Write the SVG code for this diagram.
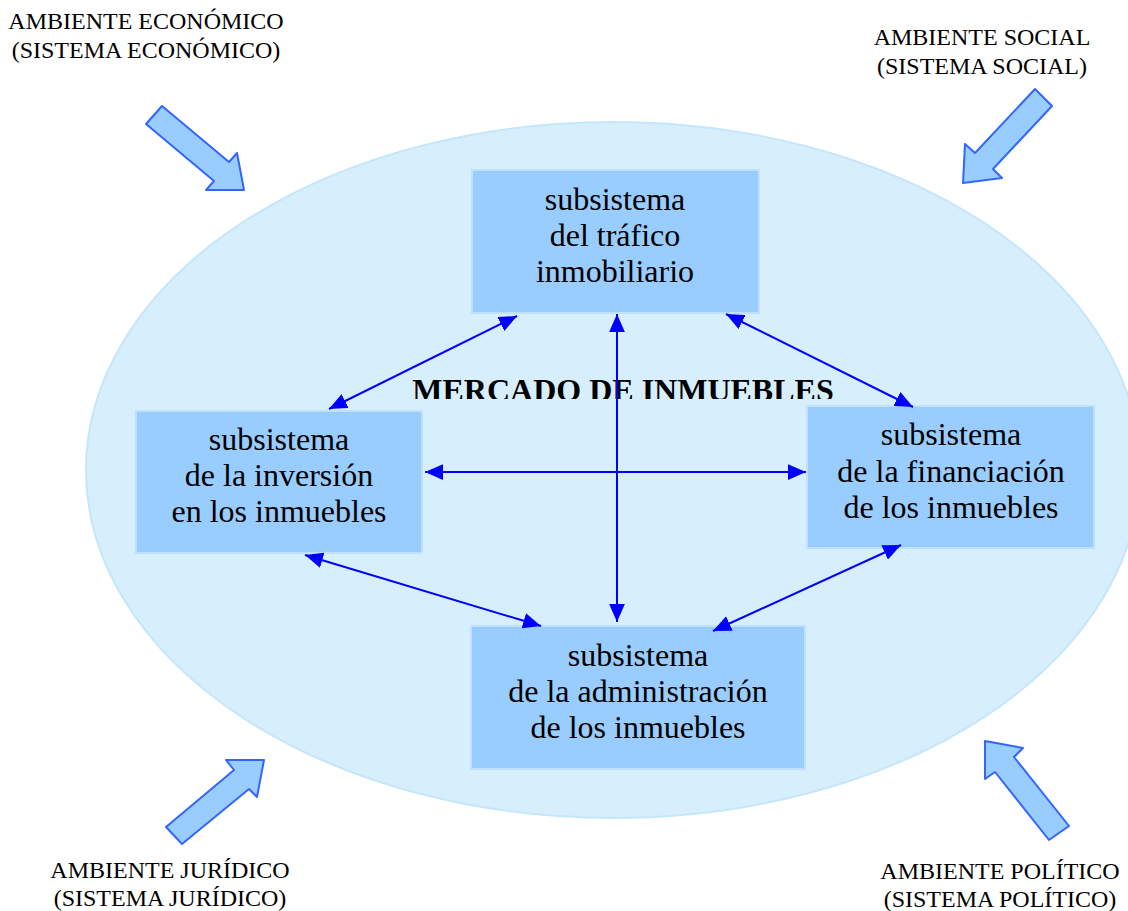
<svg xmlns="http://www.w3.org/2000/svg" width="1128" height="911" viewBox="0 0 1128 911">
<style>
.lbl{font-family:"Liberation Serif","Times New Roman",serif;font-size:24px;fill:#000;text-anchor:middle}
.box{fill:#99CCFF;stroke:#BFE0FF;stroke-width:2}
.bt{font-family:"Liberation Serif","Times New Roman",serif;font-size:32px;fill:#000;text-anchor:middle}
.barrow{fill:#99CCFF;stroke:#3366FF;stroke-width:2;stroke-linejoin:round}
.con{stroke:#0000FF;stroke-width:2;fill:none;marker-start:url(#ah);marker-end:url(#ah)}
</style>
<defs>
<marker id="ah" markerUnits="userSpaceOnUse" markerWidth="18" markerHeight="16" refX="16" refY="7" orient="auto-start-reverse" viewBox="0 0 16 14">
<path d="M0,0 L16,7 L0,14 z" fill="#0000FF"/>
</marker>
<clipPath id="tclip"><rect x="380" y="360" width="480" height="39"/></clipPath>
</defs>
<rect width="1128" height="911" fill="#fff"/>
<g id="ellipse">
<ellipse cx="613" cy="470" rx="527" ry="348" fill="#D7EEFD" stroke="#C6E6FB" stroke-width="2"/>
</g>
<g id="labels">
<text class="lbl" x="146" y="29">AMBIENTE ECONÓMICO</text>
<text class="lbl" x="146" y="58">(SISTEMA ECONÓMICO)</text>
<text class="lbl" x="982" y="45">AMBIENTE SOCIAL</text>
<text class="lbl" x="982" y="74">(SISTEMA SOCIAL)</text>
<text class="lbl" x="170" y="878">AMBIENTE JURÍDICO</text>
<text class="lbl" x="170" y="906">(SISTEMA JURÍDICO)</text>
<text class="lbl" x="1000" y="879">AMBIENTE POLÍTICO</text>
<text class="lbl" x="1000" y="907">(SISTEMA POLÍTICO)</text>
</g>
<g id="block-arrows">
<polygon class="barrow" points="146,124 162,106 229,162 237,153 244,190 206,190 214,181"/>
<polygon class="barrow" points="1035,89 1052,106 993,169 1002,178 963,183 965,144 975,153"/>
<polygon class="barrow" points="166,827 182,844 249,789 257,797 264,760 226,760 234,770"/>
<polygon class="barrow" points="985,741 1023,748 1014,757 1069,826 1049,840 995,772 985,779"/>
</g>
<g id="title">
<text x="623" y="401" clip-path="url(#tclip)" font-family="Liberation Serif,'Times New Roman',serif" font-size="32" font-weight="bold" text-anchor="middle">MERCADO DE INMUEBLES</text>
</g>
<g id="node-trafico">
<rect class="box" x="472" y="170" width="287" height="143"/>
<text class="bt" x="615" y="210">subsistema</text>
<text class="bt" x="615" y="246">del tráfico</text>
<text class="bt" x="615" y="282">inmobiliario</text>
</g>
<g id="node-inversion">
<rect class="box" x="136" y="411" width="286" height="142"/>
<text class="bt" x="279" y="450">subsistema</text>
<text class="bt" x="279" y="486">de la inversión</text>
<text class="bt" x="279" y="522">en los inmuebles</text>
</g>
<g id="node-financiacion">
<rect class="box" x="807" y="406" width="287" height="142"/>
<text class="bt" x="951" y="445">subsistema</text>
<text class="bt" x="951" y="482">de la financiación</text>
<text class="bt" x="951" y="518">de los inmuebles</text>
</g>
<g id="node-administracion">
<rect class="box" x="471" y="626" width="334" height="143"/>
<text class="bt" x="638" y="666">subsistema</text>
<text class="bt" x="638" y="702">de la administración</text>
<text class="bt" x="638" y="738">de los inmuebles</text>
</g>
<g id="connectors">
<line class="con" x1="517" y1="316" x2="329" y2="409"/>
<line class="con" x1="617" y1="314" x2="617" y2="622"/>
<line class="con" x1="726" y1="314" x2="913" y2="407"/>
<line class="con" x1="425" y1="472" x2="806" y2="472"/>
<line class="con" x1="305" y1="555" x2="541" y2="626"/>
<line class="con" x1="901" y1="545" x2="713" y2="631"/>
</g>
</svg>
